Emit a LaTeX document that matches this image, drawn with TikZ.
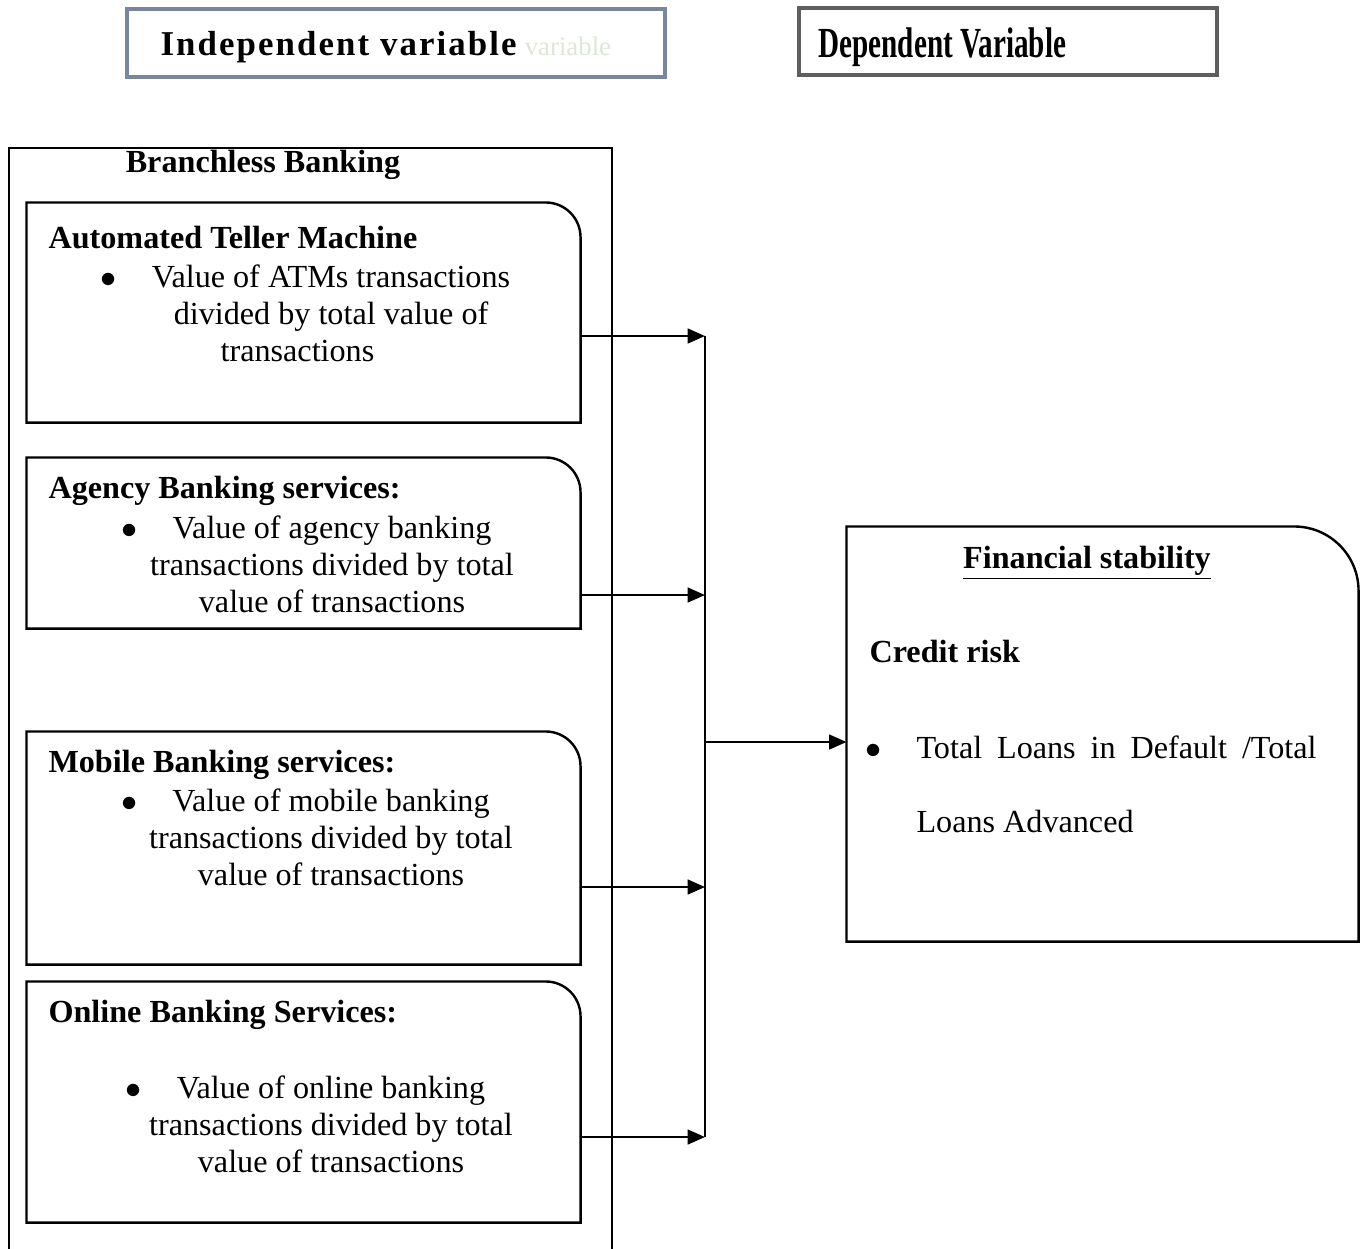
\documentclass[tikz,border=0pt]{standalone}
\usepackage{fontspec}
\setmainfont{Liberation Serif}
\newfontfamily\narrowbold[FakeStretch=0.68]{Liberation Serif}
\newfontfamily\spacedbold[LetterSpace=6]{Liberation Serif}
\usetikzlibrary{arrows.meta,positioning}

\newcommand\pxu{0.373pt}
\newcommand\bul{\llap{$\bullet$\hspace{13pt}}}
\definecolor{headblue}{RGB}{122,134,158}
\definecolor{headgray}{RGB}{95,95,95}
\definecolor{ghost}{RGB}{222,230,214}

\tikzset{
  boxline/.style={line width=0.9pt},
  arr/.style={boxline, -{Triangle[length=6.5pt,width=5.5pt]}},
  ibox/.style={minimum width=553*\pxu, inner sep=0pt},
  headbox/.style={line width=1.2pt, inner sep=0pt},
  title/.style={font=\fontsize{12}{13.7}\selectfont\bfseries, inner sep=0pt, anchor=base west},
  body/.style={font=\fontsize{12}{13.7}\selectfont, align=center, inner sep=0pt, anchor=base}
}

% box with one rounded corner (top right)
\newcommand\cornerbox[2]{%
  \draw[boxline] (#1.south west) -- (#1.north west) -- ([xshift=-#2]#1.north east)
    arc[start angle=90, end angle=0, radius=#2] -- (#1.south east) -- cycle;}

\begin{document}
\begin{tikzpicture}[x=\pxu, y=-\pxu]
\useasboundingbox (0,0) rectangle (1365,1248);
\clip (0,0) rectangle (1365,1248);

% headers
\node[headbox, draw=headblue, minimum width=538*\pxu, minimum height=68*\pxu] (indep) at (396,43) {};
\node[anchor=base west, inner sep=0pt] (indeptext) at (160,55)
  {\fontsize{13}{15}\spacedbold\bfseries Independent variable\hspace{3pt}{\fontsize{10}{12}\normalfont\color{ghost}variable}};

\node[headbox, draw=headgray, minimum width=418*\pxu, minimum height=67*\pxu] (dep) at (1008,41.5) {};
\node[anchor=base west, inner sep=0pt] (deptext) at (818,57)
  {\fontsize{16}{18}\narrowbold\bfseries Dependent Variable};

% outer box
\node[draw, boxline, anchor=north west, minimum width=603*\pxu, minimum height=1140*\pxu] (branch) at (8,147) {};
\node[title, anchor=base] (branchtitle) at (263,172) {Branchless Banking};

% inner boxes
\node[ibox, minimum height=219*\pxu] (atm) at (303.5,312.5) {};
\node[ibox, minimum height=170*\pxu] (agency) at (303.5,543) {};
\node[ibox, minimum height=232*\pxu] (mobile) at (303.5,848) {};
\node[ibox, minimum height=240*\pxu] (online) at (303.5,1102) {};
\cornerbox{atm}{13pt}
\cornerbox{agency}{13pt}
\cornerbox{mobile}{13pt}
\cornerbox{online}{13pt}

% base of a body node is its last line
\node[title] (atmtitle) at (48,248) {Automated Teller Machine};
\node[body] (atmbody) at (331,361) {\bul Value of ATMs transactions\\
  divided by total value of\\ transactions\hspace*{25pt}};

\node[title] (agencytitle) at (48,498) {Agency Banking services:};
\node[body] (agencybody) at (332,612) {\bul Value of agency banking\\
  transactions divided by total\\ value of transactions};

\node[title] (mobiletitle) at (48,772) {Mobile Banking services:};
\node[body] (mobilebody) at (331,885) {\bul Value of mobile banking\\
  transactions divided by total\\ value of transactions};

\node[title] (onlinetitle) at (48,1022) {Online Banking Services:};
\node[body] (onlinebody) at (331,1172) {\bul Value of online banking\\
  transactions divided by total\\ value of transactions};

% dependent side
\node[ibox, minimum width=511*\pxu, minimum height=414*\pxu] (fin) at (1102.5,734) {};
\cornerbox{fin}{24pt}
\node[title, anchor=base] (fintitle) at (1087,568) {\underline{Financial stability}};
\node[title] (credit) at (869,662) {Credit risk};
\node[inner sep=0pt, anchor=base west, align=left, font=\fontsize{12}{27.6}\selectfont] (finbody) at (916,832)
  {\bul\makebox[149.2pt][s]{Total Loans in Default /Total}\\ Loans Advanced};

% connectors
\coordinate (j1) at (705,336);
\coordinate (j2) at (705,595);
\coordinate (j3) at (705,887);
\coordinate (j4) at (705,1137);
\coordinate (jm) at (705,742);

\draw[arr] (atm.east |- j1) -- (j1);
\draw[arr] (agency.east |- j2) -- (j2);
\draw[arr] (mobile.east |- j3) -- (j3);
\draw[arr] (online.east |- j4) -- (j4);
\draw[boxline] (j1) -- (j4);
\draw[arr] (jm) -- (fin.west |- jm);

\end{tikzpicture}
\end{document}
